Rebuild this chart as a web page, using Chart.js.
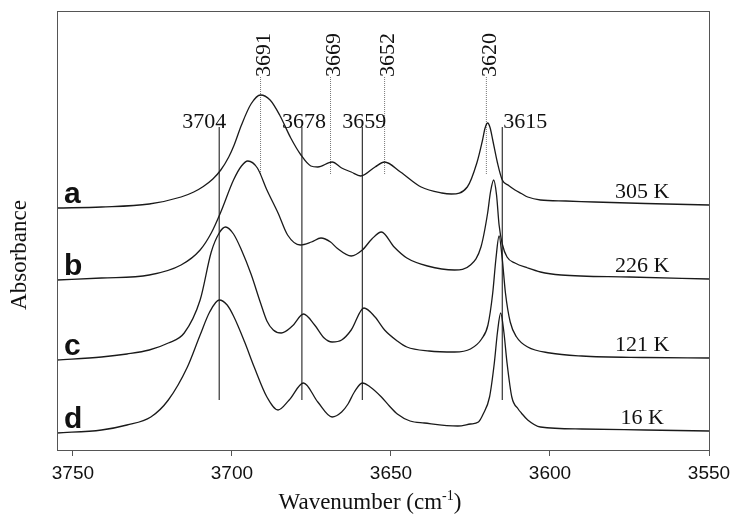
<!DOCTYPE html>
<html>
<head>
<meta charset="utf-8">
<script src="https://cdn.jsdelivr.net/npm/chart.js@4.4.1/dist/chart.umd.min.js"></script>
<style>
  body { margin: 0; background: #fff; }
  canvas { display: block; }
</style>
</head>
<body>
<canvas id="irChart" width="737" height="519"></canvas>
<script>
// spectra: wavenumber (cm-1) and offset absorbance (arb. units)
const waveA = [3755, 3741, 3726, 3716, 3712, 3709, 3706, 3703.5, 3701, 3699.3, 3697, 3694, 3691, 3688, 3685, 3681.5, 3678.3, 3675.2, 3673, 3668.5, 3665.5, 3662.5, 3659.5, 3655, 3652, 3647, 3640.5, 3634, 3631, 3626, 3623, 3621.2, 3620.4, 3619.6, 3618.8, 3618, 3616.5, 3615, 3613, 3611, 3609, 3607, 3603, 3595, 3586, 3570, 3550];
const absA  = [2.42, 2.43, 2.46, 2.53, 2.58, 2.635, 2.71, 2.80, 2.93, 3.05, 3.25, 3.46, 3.55, 3.50, 3.35, 3.12, 2.95, 2.84, 2.83, 2.88, 2.82, 2.78, 2.74, 2.83, 2.88, 2.78, 2.63, 2.57, 2.56, 2.63, 2.87, 3.10, 3.22, 3.27, 3.22, 3.10, 2.87, 2.70, 2.645, 2.60, 2.565, 2.53, 2.50, 2.49, 2.48, 2.465, 2.45];

const waveB = [3755, 3741, 3726, 3716, 3710, 3706.5, 3703.5, 3699.5, 3697, 3695, 3692, 3689, 3685.5, 3682.5, 3678.5, 3675, 3672, 3669, 3667, 3662.5, 3659, 3656, 3653, 3649, 3645, 3638.5, 3630, 3625, 3621.7, 3619.6, 3618.7, 3617.7, 3616.8, 3616, 3615, 3613.5, 3611, 3607, 3603, 3596.5, 3575, 3550];
const absB  = [1.70, 1.72, 1.75, 1.85, 2.00, 2.17, 2.38, 2.70, 2.84, 2.89, 2.82, 2.60, 2.37, 2.15, 2.05, 2.08, 2.12, 2.08, 2.02, 1.94, 2.00, 2.11, 2.18, 2.03, 1.92, 1.84, 1.80, 1.85, 2.03, 2.37, 2.58, 2.70, 2.55, 2.25, 2.06, 1.93, 1.87, 1.82, 1.78, 1.75, 1.73, 1.71];

const waveC = [3755, 3741, 3733, 3726, 3720, 3715, 3710, 3706.5, 3704, 3702, 3699.5, 3697, 3694, 3691, 3689, 3687, 3684.5, 3681, 3677.5, 3674, 3671, 3668.5, 3665.5, 3662.5, 3658.5, 3655, 3652, 3648, 3645, 3638, 3630, 3625, 3621.5, 3619.5, 3618, 3617, 3616, 3615, 3614, 3612.5, 3610.5, 3607, 3600, 3590, 3570, 3550];
const absC  = [0.90, 0.93, 0.96, 1.00, 1.07, 1.17, 1.50, 1.98, 2.17, 2.23, 2.16, 2.00, 1.76, 1.47, 1.29, 1.20, 1.17, 1.24, 1.36, 1.25, 1.12, 1.08, 1.10, 1.20, 1.42, 1.33, 1.20, 1.09, 1.03, 0.99, 0.98, 1.01, 1.11, 1.25, 1.57, 1.91, 2.14, 1.91, 1.57, 1.28, 1.13, 1.03, 0.97, 0.94, 0.925, 0.92];

const waveD = [3755, 3741, 3733, 3725.5, 3720, 3714, 3710, 3707, 3704, 3701.5, 3699.5, 3696, 3693, 3689, 3685.5, 3682, 3677.5, 3673, 3668.5, 3665.5, 3663.5, 3661.5, 3659, 3656.5, 3653, 3650.5, 3648, 3644, 3639.5, 3629, 3625, 3622.5, 3621, 3619, 3617.5, 3616.5, 3615.5, 3614.5, 3613.5, 3612, 3610, 3609, 3607, 3603, 3590, 3570, 3550];
const absD  = [0.17, 0.20, 0.25, 0.33, 0.50, 0.83, 1.15, 1.38, 1.50, 1.45, 1.34, 1.08, 0.83, 0.53, 0.40, 0.50, 0.67, 0.48, 0.33, 0.38, 0.46, 0.58, 0.67, 0.63, 0.53, 0.44, 0.36, 0.29, 0.27, 0.24, 0.26, 0.28, 0.36, 0.53, 0.87, 1.18, 1.37, 1.18, 0.87, 0.53, 0.41, 0.37, 0.30, 0.23, 0.21, 0.20, 0.19];

const curveLetters = ['a', 'b', 'c', 'd'];
const temperatures = ['305 K', '226 K', '121 K', '16 K'];

// band positions marked on the plot
const solidPeaks  = [3704, 3678, 3659, 3615];
const dottedPeaks = [3691, 3669, 3652, 3620];

const xTicks = [3750, 3700, 3650, 3600, 3550];

const spectra = [[waveA, absA], [waveB, absB], [waveC, absC], [waveD, absD]];

function toPoints(xs, ys) {
    return xs.map((x, i) => ({ x: x, y: ys[i] }));
}

const datasets = [];

spectra.forEach(([w, a], i) => {
    datasets.push({
        label: curveLetters[i],
        data: toPoints(w, a),
        borderColor: '#1a1a1a',
        borderWidth: 1.3,
        pointRadius: 0,
        cubicInterpolationMode: 'monotone',
        fill: false
    });
});

// marker lines
solidPeaks.forEach(p => {
    datasets.push({
        data: [{ x: p, y: 0.50 }, { x: p, y: 3.23 }],
        borderColor: '#222',
        borderWidth: 1.1,
        pointRadius: 0,
        tension: 0
    });
});
dottedPeaks.forEach(p => {
    datasets.push({
        data: [{ x: p, y: 2.76 }, { x: p, y: 3.73 }],
        borderColor: '#777',
        borderWidth: 1,
        borderDash: [1, 1],
        pointRadius: 0,
        tension: 0
    });
});

// frame, band labels, curve labels, axis titles
const decorPlugin = {
    id: 'decor',
    afterDatasetsDraw(chart) {
        const ctx = chart.ctx;
        const area = chart.chartArea;
        const xs = chart.scales.x;
        const ys = chart.scales.y;

        ctx.save();
        ctx.strokeStyle = '#555';
        ctx.lineWidth = 1;
        ctx.strokeRect(area.left + 0.5, area.top + 0.5, area.right - area.left, area.bottom - area.top);

        ctx.fillStyle = '#111';

        // horizontal labels over solid lines
        ctx.font = '22px "Liberation Serif", "Times New Roman", serif';
        ctx.textBaseline = 'alphabetic';
        const aligns = ['right', 'center', 'center', 'left'];
        const shifts = [7, 2, 2, 1];
        solidPeaks.forEach((p, i) => {
            ctx.textAlign = aligns[i];
            ctx.fillText(String(p), xs.getPixelForValue(p) + shifts[i], ys.getPixelForValue(3.22));
        });

        // rotated labels over dotted lines
        dottedPeaks.forEach(p => {
            ctx.save();
            ctx.translate(xs.getPixelForValue(p) + 4, ys.getPixelForValue(3.73));
            ctx.rotate(-Math.PI / 2);
            ctx.textAlign = 'left';
            ctx.textBaseline = 'middle';
            ctx.fillText(String(p), 0, 0);
            ctx.restore();
        });

        // temperatures at the right end of each trace
        spectra.forEach(([w, a], i) => {
            ctx.textAlign = 'center';
            ctx.textBaseline = 'alphabetic';
            ctx.fillText(temperatures[i], xs.getPixelForValue(3571), ys.getPixelForValue(a[a.length - 1]) - 7);
        });

        // curve letters
        ctx.font = 'bold 30px "Liberation Sans", Arial, sans-serif';
        ctx.textAlign = 'left';
        spectra.forEach(([w, a], i) => {
            ctx.fillText(curveLetters[i], area.left + 7, ys.getPixelForValue(a[0]) - 5);
        });

        // axis titles
        ctx.font = '23px "Liberation Serif", "Times New Roman", serif';
        ctx.save();
        ctx.translate(20, 255);
        ctx.rotate(-Math.PI / 2);
        ctx.textAlign = 'center';
        ctx.textBaseline = 'middle';
        ctx.fillText('Absorbance', 0, 0);
        ctx.restore();

        const main = 'Wavenumber (cm';
        const sup = '-1';
        const tail = ')';
        ctx.textAlign = 'left';
        ctx.textBaseline = 'alphabetic';
        const wMain = ctx.measureText(main).width;
        const wTail = ctx.measureText(tail).width;
        ctx.font = '14px "Liberation Serif", "Times New Roman", serif';
        const wSup = ctx.measureText(sup).width;
        let x0 = 370 - (wMain + wSup + wTail) / 2;
        const base = 509;
        ctx.font = '23px "Liberation Serif", "Times New Roman", serif';
        ctx.fillText(main, x0, base);
        ctx.font = '14px "Liberation Serif", "Times New Roman", serif';
        ctx.fillText(sup, x0 + wMain, base - 9);
        ctx.font = '23px "Liberation Serif", "Times New Roman", serif';
        ctx.fillText(tail, x0 + wMain + wSup, base);
        ctx.restore();
    }
};

new Chart(document.getElementById('irChart').getContext('2d'), {
    type: 'line',
    data: { datasets: datasets },
    options: {
        responsive: false,
        animation: false,
        layout: { padding: { left: 57, right: 28, top: 11, bottom: 0 } },
        plugins: {
            legend: { display: false },
            tooltip: { enabled: false }
        },
        scales: {
            x: {
                type: 'linear',
                reverse: true,
                min: 3550,
                max: 3755,
                afterBuildTicks: scale => { scale.ticks = xTicks.map(v => ({ value: v })); },
                afterFit: scale => { scale.height = 69; },
                border: { display: false },
                grid: { drawOnChartArea: false, drawTicks: true, tickLength: 6, tickColor: '#555' },
                ticks: {
                    color: '#111',
                    padding: 6,
                    maxRotation: 0,
                    font: { family: '"Liberation Sans", Arial, sans-serif', size: 19 },
                    callback: v => String(v)
                }
            },
            y: {
                display: false,
                min: 0,
                max: 4.39
            }
        }
    },
    plugins: [decorPlugin]
});
</script>
</body>
</html>
